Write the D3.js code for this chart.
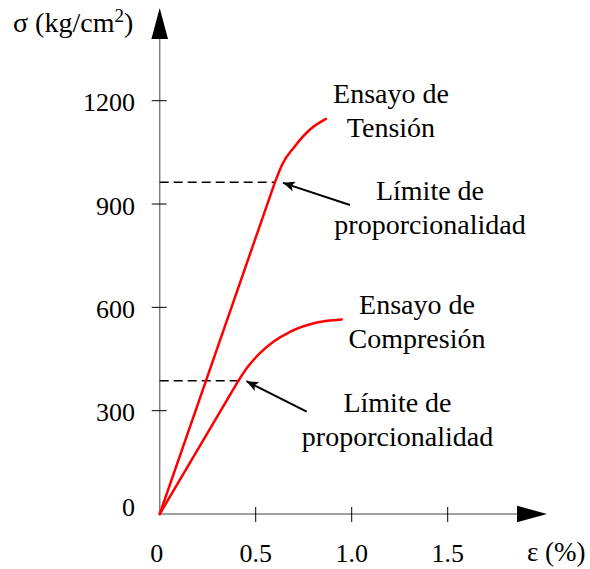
<!DOCTYPE html>
<html><head><meta charset="utf-8">
<script src="https://cdn.jsdelivr.net/npm/d3@7"></script>
<style>
html,body{margin:0;padding:0;background:#fff;}
text{fill:#000;}
</style></head>
<body>
<svg id="chart" width="590" height="569"></svg>
<script>
// ---- data ----
const yTicks = [0, 300, 600, 900, 1200];
const xTicks = [0, 0.5, 1.0, 1.5];
const xTickLabels = ["0", "0.5", "1.0", "1.5"];
const tensionStrain = [0, 0.60, 0.64, 0.70, 0.78, 0.866];
const tensionStress = [0, 963, 1017, 1065, 1115, 1147];
const compStrain = [0, 0.41, 0.46, 0.522, 0.592, 0.679, 0.818, 0.948];
const compStress = [0, 387, 428, 467, 500, 529, 556, 565];
const tensionLimit = [0.60, 963];
const compLimit = [0.41, 387];
const tensionLabel = ["Ensayo de", "Tensión"];
const compLabel = ["Ensayo de", "Compresión"];
const limitLabel = ["Límite de", "proporcionalidad"];
const yTitle = "σ (kg/cm";
const xTitle = "ε (%)";

const svg = d3.select("#chart");
const x = d3.scaleLinear().domain([0, 1.5]).range([159.7, 447.7]);
const y = d3.scaleLinear().domain([0, 1200]).range([514, 100.7]);
const FF = '"Liberation Serif","Times New Roman",serif';

svg.append("defs").append("marker")
  .attr("id", "ah").attr("viewBox", "0 0 12 10").attr("refX", 12).attr("refY", 5)
  .attr("markerWidth", 12).attr("markerHeight", 10).attr("markerUnits", "userSpaceOnUse")
  .attr("orient", "auto")
  .append("path").attr("d", "M0,0 L12,5 L0,10 L3,5 Z").attr("fill", "#000");

// axes lines
const axisCol = "#808080";
svg.append("line").attr("x1", x(0)).attr("x2", 520).attr("y1", y(0)).attr("y2", y(0))
  .attr("stroke", axisCol).attr("stroke-width", 1.5);
svg.append("line").attr("x1", x(0)).attr("x2", x(0)).attr("y1", y(0)).attr("y2", 36)
  .attr("stroke", axisCol).attr("stroke-width", 1.5);
// arrowheads
svg.append("path").attr("d", `M${x(0)},8 L${x(0)-8.3},39 L${x(0)+8.3},39 Z`).attr("fill", "#000");
svg.append("path").attr("d", `M547,${y(0)} L517,${y(0)-8.3} L517,${y(0)+8.3} Z`).attr("fill", "#000");

// y ticks
yTicks.forEach(v => {
  if (v > 0) svg.append("line").attr("x1", x(0) - 8).attr("x2", x(0) + 7)
    .attr("y1", y(v)).attr("y2", y(v)).attr("stroke", "#000").attr("stroke-width", 1);
  svg.append("text").attr("font-family", FF).attr("x", 135).attr("y", y(v) + (v === 0 ? 1.5 : 10.5))
    .attr("text-anchor", "end").attr("font-size", 26).text(v);
});
// x ticks
xTicks.forEach((v, i) => {
  if (v > 0) svg.append("line").attr("x1", x(v)).attr("x2", x(v))
    .attr("y1", y(0) - 7).attr("y2", y(0) + 8).attr("stroke", "#000").attr("stroke-width", 1);
  svg.append("text").attr("font-family", FF).attr("x", x(v) - (v === 0 ? 3 : 0)).attr("y", 562)
    .attr("text-anchor", "middle").attr("font-size", 26).text(xTickLabels[i]);
});

// titles
const t = svg.append("text").attr("font-family", FF).attr("x", 13).attr("y", 32).attr("font-size", 28);
t.append("tspan").text(yTitle);
t.append("tspan").attr("font-size", 19).attr("dy", -10).text("2");
t.append("tspan").attr("dy", 10).text(")");
svg.append("text").attr("font-family", FF).attr("x", 527).attr("y", 561).attr("font-size", 27).text(xTitle);

// dashed limit lines
[tensionLimit, compLimit].forEach(p => {
  svg.append("line").attr("x1", x(0)).attr("x2", x(p[0])).attr("y1", y(p[1])).attr("y2", y(p[1]))
    .attr("stroke", "#000").attr("stroke-width", 1.5).attr("stroke-dasharray", "9,5");
});

// curves: straight proportional part + smooth upper part
const lin = d3.line().x(d => x(d[0])).y(d => y(d[1]));
const smooth = d3.line().x(d => x(d[0])).y(d => y(d[1])).curve(d3.curveMonotoneX);
function drawCurve(strain, stress) {
  const pts = strain.map((s, i) => [s, stress[i]]);
  const g = svg.append("g").attr("fill", "none").attr("stroke", "#ff0000")
    .attr("stroke-width", 2.5).attr("stroke-linecap", "round").attr("stroke-linejoin", "round");
  g.append("path").attr("d", lin(pts.slice(0, 2)));
  g.append("path").attr("d", smooth(pts.slice(1)));
}
drawCurve(tensionStrain, tensionStress);
drawCurve(compStrain, compStress);

// annotation arrows
function arrow(tail, p) {
  svg.append("line").attr("x1", tail[0]).attr("y1", tail[1])
    .attr("x2", x(p[0]) + 8).attr("y2", y(p[1]) + 0.5)
    .attr("stroke", "#000").attr("stroke-width", 2).attr("marker-end", "url(#ah)");
}
arrow([350, 205], tensionLimit);
arrow([306.7, 411.7], compLimit);

// labels
function label(lines, cx, y0) {
  lines.forEach((s, i) => svg.append("text").attr("font-family", FF).attr("x", cx).attr("y", y0 + i * 34)
    .attr("text-anchor", "middle").attr("font-size", 28).text(s));
}
label(tensionLabel, 391, 102.7);
label(limitLabel, 430, 199.5);
label(compLabel, 417, 314.3);
label(limitLabel, 397.5, 411.5);
</script>
</body></html>
